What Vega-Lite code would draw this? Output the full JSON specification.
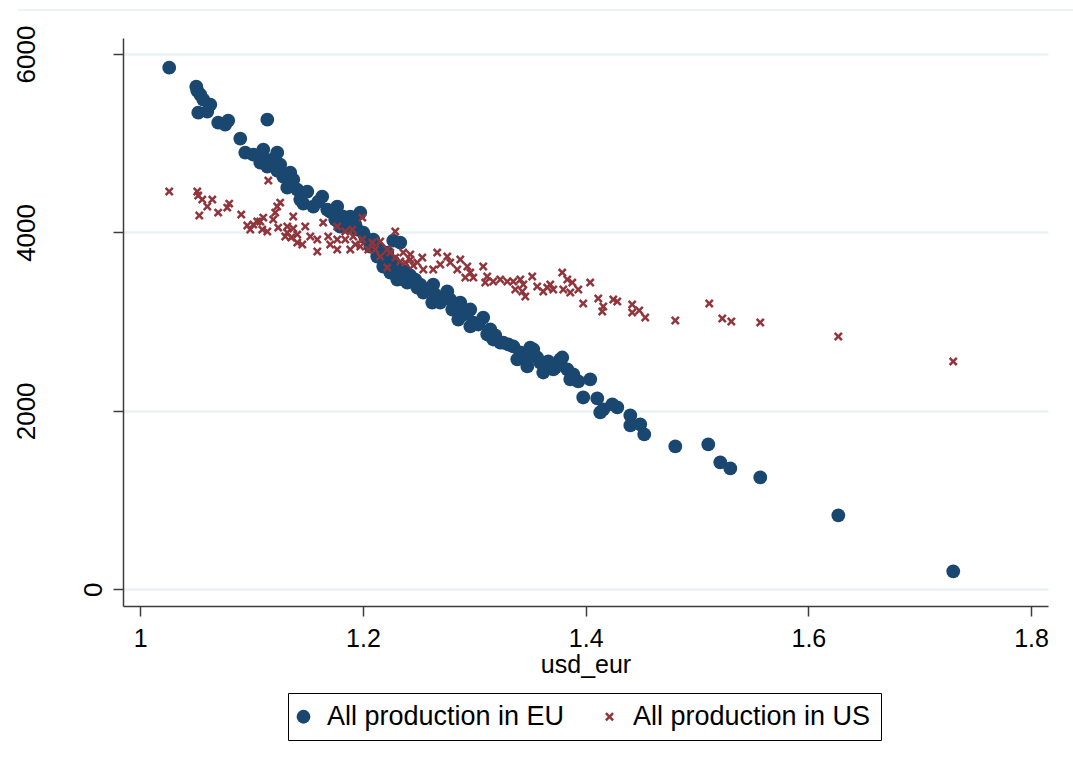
{
  "$schema": "https://vega.github.io/schema/vega-lite/v6.json",
  "autosize": "none",
  "width": 925,
  "height": 568,
  "padding": {"left": 123, "top": 38, "right": 25, "bottom": 167},
  "background": "white",
  "config": {"view": {"stroke": null}, "font": "Liberation Sans"},
  "data": {"values": [
    {"series": "All production in EU", "usd_eur": 1.0260, "value": 5846},
    {"series": "All production in EU", "usd_eur": 1.0503, "value": 5634},
    {"series": "All production in EU", "usd_eur": 1.0512, "value": 5589},
    {"series": "All production in EU", "usd_eur": 1.0539, "value": 5544},
    {"series": "All production in EU", "usd_eur": 1.0566, "value": 5488},
    {"series": "All production in EU", "usd_eur": 1.0629, "value": 5432},
    {"series": "All production in EU", "usd_eur": 1.0521, "value": 5342},
    {"series": "All production in EU", "usd_eur": 1.0602, "value": 5354},
    {"series": "All production in EU", "usd_eur": 1.0700, "value": 5230},
    {"series": "All production in EU", "usd_eur": 1.0790, "value": 5253},
    {"series": "All production in EU", "usd_eur": 1.0763, "value": 5208},
    {"series": "All production in EU", "usd_eur": 1.1141, "value": 5264},
    {"series": "All production in EU", "usd_eur": 1.0898, "value": 5051},
    {"series": "All production in EU", "usd_eur": 1.0943, "value": 4894},
    {"series": "All production in EU", "usd_eur": 1.1015, "value": 4872},
    {"series": "All production in EU", "usd_eur": 1.1096, "value": 4850},
    {"series": "All production in EU", "usd_eur": 1.1230, "value": 4894},
    {"series": "All production in EU", "usd_eur": 1.1078, "value": 4782},
    {"series": "All production in EU", "usd_eur": 1.1141, "value": 4738},
    {"series": "All production in EU", "usd_eur": 1.1230, "value": 4693},
    {"series": "All production in EU", "usd_eur": 1.1284, "value": 4626},
    {"series": "All production in EU", "usd_eur": 1.1347, "value": 4670},
    {"series": "All production in EU", "usd_eur": 1.1374, "value": 4592},
    {"series": "All production in EU", "usd_eur": 1.1320, "value": 4502},
    {"series": "All production in EU", "usd_eur": 1.1410, "value": 4480},
    {"series": "All production in EU", "usd_eur": 1.1500, "value": 4458},
    {"series": "All production in EU", "usd_eur": 1.1634, "value": 4402},
    {"series": "All production in EU", "usd_eur": 1.1464, "value": 4323},
    {"series": "All production in EU", "usd_eur": 1.1554, "value": 4290},
    {"series": "All production in EU", "usd_eur": 1.1679, "value": 4256},
    {"series": "All production in EU", "usd_eur": 1.1769, "value": 4290},
    {"series": "All production in EU", "usd_eur": 1.1823, "value": 4178},
    {"series": "All production in EU", "usd_eur": 1.1913, "value": 4144},
    {"series": "All production in EU", "usd_eur": 1.1976, "value": 4222},
    {"series": "All production in EU", "usd_eur": 1.1859, "value": 4066},
    {"series": "All production in EU", "usd_eur": 1.2003, "value": 3998},
    {"series": "All production in EU", "usd_eur": 1.2093, "value": 3920},
    {"series": "All production in EU", "usd_eur": 1.2272, "value": 3909},
    {"series": "All production in EU", "usd_eur": 1.1886, "value": 4178},
    {"series": "All production in EU", "usd_eur": 1.1796, "value": 4066},
    {"series": "All production in EU", "usd_eur": 1.1949, "value": 4032},
    {"series": "All production in EU", "usd_eur": 1.2066, "value": 3842},
    {"series": "All production in EU", "usd_eur": 1.2128, "value": 3730},
    {"series": "All production in EU", "usd_eur": 1.2218, "value": 3774},
    {"series": "All production in EU", "usd_eur": 1.2182, "value": 3618},
    {"series": "All production in EU", "usd_eur": 1.2245, "value": 3550},
    {"series": "All production in EU", "usd_eur": 1.2308, "value": 3472},
    {"series": "All production in EU", "usd_eur": 1.2398, "value": 3438},
    {"series": "All production in EU", "usd_eur": 1.2488, "value": 3382},
    {"series": "All production in EU", "usd_eur": 1.2542, "value": 3326},
    {"series": "All production in EU", "usd_eur": 1.2335, "value": 3886},
    {"series": "All production in EU", "usd_eur": 1.2362, "value": 3472},
    {"series": "All production in EU", "usd_eur": 1.2631, "value": 3416},
    {"series": "All production in EU", "usd_eur": 1.2622, "value": 3214},
    {"series": "All production in EU", "usd_eur": 1.2757, "value": 3338},
    {"series": "All production in EU", "usd_eur": 1.2694, "value": 3214},
    {"series": "All production in EU", "usd_eur": 1.2847, "value": 3170},
    {"series": "All production in EU", "usd_eur": 1.2874, "value": 3214},
    {"series": "All production in EU", "usd_eur": 1.2856, "value": 3024},
    {"series": "All production in EU", "usd_eur": 1.2937, "value": 3102},
    {"series": "All production in EU", "usd_eur": 1.2964, "value": 3136},
    {"series": "All production in EU", "usd_eur": 1.2991, "value": 2990},
    {"series": "All production in EU", "usd_eur": 1.3080, "value": 3046},
    {"series": "All production in EU", "usd_eur": 1.2964, "value": 2946},
    {"series": "All production in EU", "usd_eur": 1.3116, "value": 2856},
    {"series": "All production in EU", "usd_eur": 1.3170, "value": 2800},
    {"series": "All production in EU", "usd_eur": 1.3233, "value": 2766},
    {"series": "All production in EU", "usd_eur": 1.3260, "value": 2766},
    {"series": "All production in EU", "usd_eur": 1.3350, "value": 2722},
    {"series": "All production in EU", "usd_eur": 1.3413, "value": 2654},
    {"series": "All production in EU", "usd_eur": 1.3386, "value": 2576},
    {"series": "All production in EU", "usd_eur": 1.3476, "value": 2610},
    {"series": "All production in EU", "usd_eur": 1.3502, "value": 2710},
    {"series": "All production in EU", "usd_eur": 1.3529, "value": 2688},
    {"series": "All production in EU", "usd_eur": 1.3476, "value": 2498},
    {"series": "All production in EU", "usd_eur": 1.3592, "value": 2542},
    {"series": "All production in EU", "usd_eur": 1.3619, "value": 2430},
    {"series": "All production in EU", "usd_eur": 1.3709, "value": 2464},
    {"series": "All production in EU", "usd_eur": 1.3772, "value": 2576},
    {"series": "All production in EU", "usd_eur": 1.3790, "value": 2598},
    {"series": "All production in EU", "usd_eur": 1.3835, "value": 2464},
    {"series": "All production in EU", "usd_eur": 1.3862, "value": 2352},
    {"series": "All production in EU", "usd_eur": 1.3889, "value": 2408},
    {"series": "All production in EU", "usd_eur": 1.3934, "value": 2330},
    {"series": "All production in EU", "usd_eur": 1.4041, "value": 2352},
    {"series": "All production in EU", "usd_eur": 1.3978, "value": 2150},
    {"series": "All production in EU", "usd_eur": 1.4104, "value": 2139},
    {"series": "All production in EU", "usd_eur": 1.4131, "value": 1982},
    {"series": "All production in EU", "usd_eur": 1.4158, "value": 2016},
    {"series": "All production in EU", "usd_eur": 1.4239, "value": 2072},
    {"series": "All production in EU", "usd_eur": 1.4284, "value": 2038},
    {"series": "All production in EU", "usd_eur": 1.4401, "value": 1949},
    {"series": "All production in EU", "usd_eur": 1.4401, "value": 1837},
    {"series": "All production in EU", "usd_eur": 1.4490, "value": 1848},
    {"series": "All production in EU", "usd_eur": 1.4526, "value": 1736},
    {"series": "All production in EU", "usd_eur": 1.4805, "value": 1602},
    {"series": "All production in EU", "usd_eur": 1.5101, "value": 1624},
    {"series": "All production in EU", "usd_eur": 1.5209, "value": 1422},
    {"series": "All production in EU", "usd_eur": 1.5299, "value": 1355},
    {"series": "All production in EU", "usd_eur": 1.5568, "value": 1254},
    {"series": "All production in EU", "usd_eur": 1.6269, "value": 829},
    {"series": "All production in EU", "usd_eur": 1.7301, "value": 202},
    {"series": "All production in EU", "usd_eur": 1.2110, "value": 3864},
    {"series": "All production in EU", "usd_eur": 1.2155, "value": 3808},
    {"series": "All production in EU", "usd_eur": 1.2200, "value": 3718},
    {"series": "All production in EU", "usd_eur": 1.2272, "value": 3674},
    {"series": "All production in EU", "usd_eur": 1.2317, "value": 3606},
    {"series": "All production in EU", "usd_eur": 1.2380, "value": 3562},
    {"series": "All production in EU", "usd_eur": 1.2425, "value": 3517},
    {"series": "All production in EU", "usd_eur": 1.2470, "value": 3472},
    {"series": "All production in EU", "usd_eur": 1.2515, "value": 3416},
    {"series": "All production in EU", "usd_eur": 1.2577, "value": 3360},
    {"series": "All production in EU", "usd_eur": 1.2649, "value": 3304},
    {"series": "All production in EU", "usd_eur": 1.2712, "value": 3270},
    {"series": "All production in EU", "usd_eur": 1.2784, "value": 3248},
    {"series": "All production in EU", "usd_eur": 1.2802, "value": 3136},
    {"series": "All production in EU", "usd_eur": 1.2901, "value": 3080},
    {"series": "All production in EU", "usd_eur": 1.3036, "value": 2968},
    {"series": "All production in EU", "usd_eur": 1.3143, "value": 2912},
    {"series": "All production in EU", "usd_eur": 1.3188, "value": 2845},
    {"series": "All production in EU", "usd_eur": 1.3305, "value": 2744},
    {"series": "All production in EU", "usd_eur": 1.3565, "value": 2598},
    {"series": "All production in EU", "usd_eur": 1.3664, "value": 2554},
    {"series": "All production in EU", "usd_eur": 1.3727, "value": 2486},
    {"series": "All production in EU", "usd_eur": 1.1105, "value": 4928},
    {"series": "All production in EU", "usd_eur": 1.1185, "value": 4816},
    {"series": "All production in EU", "usd_eur": 1.1437, "value": 4368},
    {"series": "All production in EU", "usd_eur": 1.1599, "value": 4346},
    {"series": "All production in EU", "usd_eur": 1.1706, "value": 4234},
    {"series": "All production in EU", "usd_eur": 1.1751, "value": 4144},
    {"series": "All production in EU", "usd_eur": 1.1931, "value": 4088},
    {"series": "All production in EU", "usd_eur": 1.2021, "value": 3942},
    {"series": "All production in EU", "usd_eur": 1.1347, "value": 4536},
    {"series": "All production in EU", "usd_eur": 1.1257, "value": 4760},
    {"series": "All production in US", "usd_eur": 1.0260, "value": 4458},
    {"series": "All production in US", "usd_eur": 1.0512, "value": 4458},
    {"series": "All production in US", "usd_eur": 1.0521, "value": 4413},
    {"series": "All production in US", "usd_eur": 1.0557, "value": 4368},
    {"series": "All production in US", "usd_eur": 1.0647, "value": 4368},
    {"series": "All production in US", "usd_eur": 1.0602, "value": 4290},
    {"series": "All production in US", "usd_eur": 1.0530, "value": 4189},
    {"series": "All production in US", "usd_eur": 1.0700, "value": 4222},
    {"series": "All production in US", "usd_eur": 1.0781, "value": 4278},
    {"series": "All production in US", "usd_eur": 1.0799, "value": 4323},
    {"series": "All production in US", "usd_eur": 1.0907, "value": 4200},
    {"series": "All production in US", "usd_eur": 1.1150, "value": 4581},
    {"series": "All production in US", "usd_eur": 1.0961, "value": 4077},
    {"series": "All production in US", "usd_eur": 1.1015, "value": 4088},
    {"series": "All production in US", "usd_eur": 1.1051, "value": 4122},
    {"series": "All production in US", "usd_eur": 1.1105, "value": 4166},
    {"series": "All production in US", "usd_eur": 1.1194, "value": 4144},
    {"series": "All production in US", "usd_eur": 1.1212, "value": 4222},
    {"series": "All production in US", "usd_eur": 1.1230, "value": 4290},
    {"series": "All production in US", "usd_eur": 1.0988, "value": 4032},
    {"series": "All production in US", "usd_eur": 1.1096, "value": 4032},
    {"series": "All production in US", "usd_eur": 1.1141, "value": 4010},
    {"series": "All production in US", "usd_eur": 1.1239, "value": 4054},
    {"series": "All production in US", "usd_eur": 1.1320, "value": 4066},
    {"series": "All production in US", "usd_eur": 1.1374, "value": 4178},
    {"series": "All production in US", "usd_eur": 1.1374, "value": 4043},
    {"series": "All production in US", "usd_eur": 1.1320, "value": 3998},
    {"series": "All production in US", "usd_eur": 1.1410, "value": 3976},
    {"series": "All production in US", "usd_eur": 1.1410, "value": 3886},
    {"series": "All production in US", "usd_eur": 1.1257, "value": 4334},
    {"series": "All production in US", "usd_eur": 1.1302, "value": 3954},
    {"series": "All production in US", "usd_eur": 1.1356, "value": 3942},
    {"series": "All production in US", "usd_eur": 1.1482, "value": 4066},
    {"series": "All production in US", "usd_eur": 1.1527, "value": 3954},
    {"series": "All production in US", "usd_eur": 1.1455, "value": 3864},
    {"series": "All production in US", "usd_eur": 1.1590, "value": 3920},
    {"series": "All production in US", "usd_eur": 1.1590, "value": 3786},
    {"series": "All production in US", "usd_eur": 1.1643, "value": 4110},
    {"series": "All production in US", "usd_eur": 1.1769, "value": 4066},
    {"series": "All production in US", "usd_eur": 1.1688, "value": 3954},
    {"series": "All production in US", "usd_eur": 1.1769, "value": 3920},
    {"series": "All production in US", "usd_eur": 1.1769, "value": 3808},
    {"series": "All production in US", "usd_eur": 1.1904, "value": 4032},
    {"series": "All production in US", "usd_eur": 1.1913, "value": 3954},
    {"series": "All production in US", "usd_eur": 1.1994, "value": 4166},
    {"series": "All production in US", "usd_eur": 1.1886, "value": 3808},
    {"series": "All production in US", "usd_eur": 1.1976, "value": 3842},
    {"series": "All production in US", "usd_eur": 1.1994, "value": 3920},
    {"series": "All production in US", "usd_eur": 1.2084, "value": 3886},
    {"series": "All production in US", "usd_eur": 1.2155, "value": 3898},
    {"series": "All production in US", "usd_eur": 1.2110, "value": 3808},
    {"series": "All production in US", "usd_eur": 1.2155, "value": 3730},
    {"series": "All production in US", "usd_eur": 1.2218, "value": 3808},
    {"series": "All production in US", "usd_eur": 1.2218, "value": 3606},
    {"series": "All production in US", "usd_eur": 1.2290, "value": 4010},
    {"series": "All production in US", "usd_eur": 1.2290, "value": 3718},
    {"series": "All production in US", "usd_eur": 1.2362, "value": 3774},
    {"series": "All production in US", "usd_eur": 1.2380, "value": 3662},
    {"series": "All production in US", "usd_eur": 1.2425, "value": 3696},
    {"series": "All production in US", "usd_eur": 1.2488, "value": 3662},
    {"series": "All production in US", "usd_eur": 1.2533, "value": 3718},
    {"series": "All production in US", "usd_eur": 1.2542, "value": 3584},
    {"series": "All production in US", "usd_eur": 1.2245, "value": 3774},
    {"series": "All production in US", "usd_eur": 1.2335, "value": 3674},
    {"series": "All production in US", "usd_eur": 1.2425, "value": 3752},
    {"series": "All production in US", "usd_eur": 1.2452, "value": 3629},
    {"series": "All production in US", "usd_eur": 1.2667, "value": 3774},
    {"series": "All production in US", "usd_eur": 1.2757, "value": 3730},
    {"series": "All production in US", "usd_eur": 1.2694, "value": 3640},
    {"series": "All production in US", "usd_eur": 1.2784, "value": 3662},
    {"series": "All production in US", "usd_eur": 1.2631, "value": 3584},
    {"series": "All production in US", "usd_eur": 1.2874, "value": 3696},
    {"series": "All production in US", "usd_eur": 1.2847, "value": 3584},
    {"series": "All production in US", "usd_eur": 1.2937, "value": 3618},
    {"series": "All production in US", "usd_eur": 1.2964, "value": 3550},
    {"series": "All production in US", "usd_eur": 1.2991, "value": 3494},
    {"series": "All production in US", "usd_eur": 1.2919, "value": 3494},
    {"series": "All production in US", "usd_eur": 1.3080, "value": 3618},
    {"series": "All production in US", "usd_eur": 1.3116, "value": 3506},
    {"series": "All production in US", "usd_eur": 1.3098, "value": 3438},
    {"series": "All production in US", "usd_eur": 1.3170, "value": 3450},
    {"series": "All production in US", "usd_eur": 1.3233, "value": 3472},
    {"series": "All production in US", "usd_eur": 1.3296, "value": 3450},
    {"series": "All production in US", "usd_eur": 1.3350, "value": 3450},
    {"series": "All production in US", "usd_eur": 1.3413, "value": 3472},
    {"series": "All production in US", "usd_eur": 1.3368, "value": 3360},
    {"series": "All production in US", "usd_eur": 1.3431, "value": 3338},
    {"series": "All production in US", "usd_eur": 1.3458, "value": 3282},
    {"series": "All production in US", "usd_eur": 1.3520, "value": 3506},
    {"series": "All production in US", "usd_eur": 1.3565, "value": 3394},
    {"series": "All production in US", "usd_eur": 1.3619, "value": 3338},
    {"series": "All production in US", "usd_eur": 1.3655, "value": 3382},
    {"series": "All production in US", "usd_eur": 1.3440, "value": 3416},
    {"series": "All production in US", "usd_eur": 1.3682, "value": 3416},
    {"series": "All production in US", "usd_eur": 1.3709, "value": 3360},
    {"series": "All production in US", "usd_eur": 1.3790, "value": 3550},
    {"series": "All production in US", "usd_eur": 1.3835, "value": 3472},
    {"series": "All production in US", "usd_eur": 1.3880, "value": 3438},
    {"series": "All production in US", "usd_eur": 1.3799, "value": 3360},
    {"series": "All production in US", "usd_eur": 1.3862, "value": 3326},
    {"series": "All production in US", "usd_eur": 1.3934, "value": 3360},
    {"series": "All production in US", "usd_eur": 1.4041, "value": 3438},
    {"series": "All production in US", "usd_eur": 1.3978, "value": 3203},
    {"series": "All production in US", "usd_eur": 1.4113, "value": 3259},
    {"series": "All production in US", "usd_eur": 1.4158, "value": 3170},
    {"series": "All production in US", "usd_eur": 1.4149, "value": 3114},
    {"series": "All production in US", "usd_eur": 1.4248, "value": 3248},
    {"series": "All production in US", "usd_eur": 1.4284, "value": 3226},
    {"series": "All production in US", "usd_eur": 1.4418, "value": 3192},
    {"series": "All production in US", "usd_eur": 1.4418, "value": 3102},
    {"series": "All production in US", "usd_eur": 1.4481, "value": 3125},
    {"series": "All production in US", "usd_eur": 1.4535, "value": 3046},
    {"series": "All production in US", "usd_eur": 1.4805, "value": 3013},
    {"series": "All production in US", "usd_eur": 1.5110, "value": 3203},
    {"series": "All production in US", "usd_eur": 1.5227, "value": 3035},
    {"series": "All production in US", "usd_eur": 1.5308, "value": 3002},
    {"series": "All production in US", "usd_eur": 1.5568, "value": 2990},
    {"series": "All production in US", "usd_eur": 1.6269, "value": 2834},
    {"series": "All production in US", "usd_eur": 1.7301, "value": 2554},
    {"series": "All production in US", "usd_eur": 1.1841, "value": 3920},
    {"series": "All production in US", "usd_eur": 1.1706, "value": 3864},
    {"series": "All production in US", "usd_eur": 1.2048, "value": 3808},
    {"series": "All production in US", "usd_eur": 1.1931, "value": 3864},
    {"series": "All production in US", "usd_eur": 1.1841, "value": 4010},
    {"series": "All production in US", "usd_eur": 1.1078, "value": 4122}
  ]},
  "layer": [
    {
      "data": {"values": [{"x1": 0.8902, "x2": 1.84, "y": 6493}]},
      "mark": {"type": "rule", "color": "#e9eeee", "strokeWidth": 1.5},
      "encoding": {
        "x": {"field": "x1", "type": "quantitative"},
        "x2": {"field": "x2"},
        "y": {"field": "y", "type": "quantitative"}
      }
    },
    {
      "mark": {"type": "point", "filled": true, "opacity": 1, "strokeWidth": 0},
      "encoding": {
        "x": {
          "field": "usd_eur", "type": "quantitative",
          "scale": {"domain": [0.9845, 1.8152], "nice": false, "zero": false},
          "axis": {
            "values": [1, 1.2, 1.4, 1.6, 1.8], "format": "~g", "grid": false,
            "domainColor": "#3c3c3c", "domainWidth": 1.5,
            "tickColor": "#3c3c3c", "tickWidth": 1.5, "tickSize": 10,
            "labelFontSize": 25, "labelColor": "#000", "labelPadding": 10,
            "title": "usd_eur", "titleFontSize": 25, "titleFontWeight": "normal", "titleColor": "#000",
            "titleY": 46, "titleBaseline": "top"
          }
        },
        "y": {
          "field": "value", "type": "quantitative",
          "scale": {"domain": [-187, 6179], "nice": false, "zero": false},
          "axis": {
            "values": [0, 2000, 4000, 6000], "format": "d", "grid": true,
            "gridColor": "#eaf2f3", "gridWidth": 2.5,
            "domainColor": "#3c3c3c", "domainWidth": 1.5,
            "tickColor": "#3c3c3c", "tickWidth": 1.5, "tickSize": 10,
            "labelFontSize": 26, "labelColor": "#000", "labelAngle": -90,
            "labelAlign": "center", "labelBaseline": "alphabetic",
            "labelPadding": {"condition": {"test": "datum.value == 0", "value": 12}, "value": 79},
            "title": null
          }
        },
        "color": {
          "field": "series", "type": "nominal",
          "scale": {"domain": ["All production in EU", "All production in US"], "range": ["#1a476f", "#90353b"]},
          "legend": {"title": null, "orient": "none", "legendX": 165, "legendY": 655, "direction": "horizontal",
            "strokeColor": "#000", "fillColor": "white", "padding": 10, "labelFontSize": 27, "labelColor": "#000",
            "labelLimit": 0, "labelOffset": 10, "columnPadding": 39, "symbolOffset": -8, "symbolStrokeWidth": 0}
        },
        "shape": {
          "field": "series", "type": "nominal",
          "scale": {"domain": ["All production in EU", "All production in US"], "range": ["circle", "M-0.6,-1L0,-0.4L0.6,-1L1,-0.6L0.4,0L1,0.6L0.6,1L0,0.4L-0.6,1L-1,0.6L-0.4,0L-1,-0.6Z"]},
          "legend": {"title": null, "orient": "none", "legendX": 165, "legendY": 655, "direction": "horizontal",
            "strokeColor": "#000", "fillColor": "white", "padding": 10, "labelFontSize": 27, "labelColor": "#000",
            "labelLimit": 0, "labelOffset": 10, "columnPadding": 39, "symbolOffset": -8, "symbolStrokeWidth": 0}
        },
        "size": {
          "field": "series", "type": "nominal",
          "scale": {"domain": ["All production in EU", "All production in US"], "range": [190, 80]},
          "legend": {"title": null, "orient": "none", "legendX": 165, "legendY": 655, "direction": "horizontal",
            "strokeColor": "#000", "fillColor": "white", "padding": 10, "labelFontSize": 27, "labelColor": "#000",
            "labelLimit": 0, "labelOffset": 10, "columnPadding": 39, "symbolOffset": -8, "symbolStrokeWidth": 0}
        }
      }
    }
  ]
}
